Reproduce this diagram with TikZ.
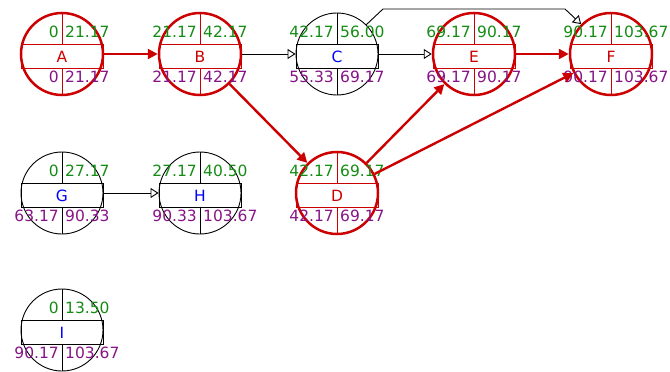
\documentclass[tikz,border=0pt]{standalone}
\usepackage{fontspec}
\setmainfont{DejaVu Sans}
\definecolor{critred}{RGB}{204,0,0}
\definecolor{earlygreen}{RGB}{20,140,20}
\definecolor{latepurple}{RGB}{135,20,135}
\definecolor{nameblue}{RGB}{0,0,255}
\usetikzlibrary{arrows.meta,calc}
% #1 name, #2 position, #3 label, #4 early start, #5 early finish, #6 late start, #7 late finish, #8 crit/norm
\newcommand{\netnode}[8]{%
  \node[#8circ] (#1) at (#2) {};
  \draw[#8line] ($(#1)+(-41,-10)$) rectangle ($(#1)+(41,14)$);
  \draw[#8line] ($(#1)+(0,-41)$) -- ($(#1)+(0,-10)$) ($(#1)+(0,14)$) -- ($(#1)+(0,41)$);
  \node[#8name] at ($(#1)+(0,8)$) {#3};
  \node[early,anchor=base east] at ($(#1)+(-3,-17)$) {#4};
  \node[early,anchor=base west] at ($(#1)+(3,-17)$) {#5};
  \node[late,anchor=base east] at ($(#1)+(-3,28)$) {#6};
  \node[late,anchor=base west] at ($(#1)+(3,28)$) {#7};
}
\begin{document}
\begin{tikzpicture}[x=1pt,y=-1pt,
  font=\fontsize{15.5}{18}\selectfont,
  critcirc/.style={circle,draw=critred,line width=2.5pt,minimum size=82pt,inner sep=0pt},
  normcirc/.style={circle,draw=black,line width=0.9pt,minimum size=82pt,inner sep=0pt},
  critline/.style={draw=critred,line width=0.9pt},
  normline/.style={draw=black,line width=0.9pt},
  critname/.style={anchor=base,text=critred,inner sep=0pt},
  normname/.style={anchor=base,text=nameblue,inner sep=0pt},
  early/.style={text=earlygreen,inner sep=0pt},
  late/.style={text=latepurple,inner sep=0pt},
  critarrow/.style={draw=critred,line width=2.4pt,-{Triangle[length=10pt,width=10pt]}},
  normarrow/.style={draw=black,line width=0.9pt,-{Triangle[open,length=8pt,width=10pt]}}]
  \useasboundingbox (0,0) rectangle (670,372);
  % Top row
  \netnode{A}{62,54}{A}{0}{21.17}{0}{21.17}{crit}
  \netnode{B}{200,54}{B}{21.17}{42.17}{21.17}{42.17}{crit}
  \netnode{C}{337,54}{C}{42.17}{56.00}{55.33}{69.17}{norm}
  \netnode{E}{474,54}{E}{69.17}{90.17}{69.17}{90.17}{crit}
  \netnode{F}{611,54}{F}{90.17}{103.67}{90.17}{103.67}{crit}
  % Middle row
  \netnode{G}{62,193}{G}{0}{27.17}{63.17}{90.33}{norm}
  \netnode{H}{200,193}{H}{27.17}{40.50}{90.33}{103.67}{norm}
  \netnode{D}{337,193}{D}{42.17}{69.17}{42.17}{69.17}{crit}
  % Bottom row
  \netnode{I}{62,330}{I}{0}{13.50}{90.17}{103.67}{norm}
  % Critical path
  \draw[critarrow] (A) -- (B);
  \draw[critarrow] (B) -- (D);
  \draw[critarrow] (D) -- (E);
  \draw[critarrow] (D) -- (F);
  \draw[critarrow] (E) -- (F);
  % Other links
  \draw[normarrow] (B) -- (C);
  \draw[normarrow] (C) -- (E);
  \draw[normarrow] (G) -- (H);
  \coordinate (cf1) at (383,9);
  \coordinate (cf2) at (565,9);
  \draw[normarrow] (C.45) -- (cf1) -- (cf2) -- (F.135);
\end{tikzpicture}
\end{document}
